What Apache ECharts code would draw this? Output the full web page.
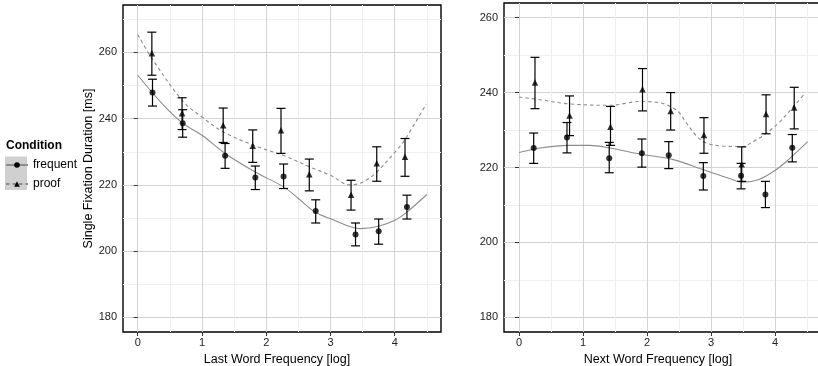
<!DOCTYPE html>
<html><head><meta charset="utf-8">
<script src="https://cdn.jsdelivr.net/npm/echarts@6/dist/echarts.min.js"></script>
<style>html,body{margin:0;padding:0;background:#fff}#c{width:818px;height:366px}</style>
</head><body><div id="c"></div>
<script>
// ---------- DATA ----------
// Left panel: Last Word Frequency [log]
const lastFreqX    = [0.23, 0.70, 1.36, 1.83, 2.27, 2.77, 3.39, 3.75, 4.19];
const lastFreqMean = [247.9, 238.6, 228.8, 222.2, 222.5, 212.1, 205.0, 206.0, 213.3];
const lastFreqLo   = [243.8, 234.4, 225.0, 218.6, 218.9, 208.5, 201.6, 202.1, 209.7];
const lastFreqHi   = [251.9, 242.7, 232.5, 225.7, 226.3, 215.5, 208.5, 209.7, 216.9];

const lastProofX    = [0.22, 0.69, 1.33, 1.79, 2.23, 2.67, 3.32, 3.72, 4.16];
const lastProofMean = [259.7, 241.6, 238.0, 231.8, 236.5, 223.2, 217.0, 226.5, 228.5];
const lastProofLo   = [253.1, 236.7, 232.8, 226.8, 229.5, 218.2, 212.4, 221.1, 222.6];
const lastProofHi   = [266.1, 246.3, 243.2, 236.6, 243.1, 227.8, 221.4, 231.5, 234.0];

const lastFreqFitX  = [0, 0.4, 0.71, 1.0, 1.36, 1.83, 2.27, 2.5, 2.76, 3.0, 3.46, 3.75, 4.0, 4.19, 4.5];
const lastFreqFitY  = [253.1, 244.1, 238.5, 235.0, 229.5, 223.9, 219.4, 215.9, 211.8, 209.8, 206.8, 207.5, 209.3, 211.8, 217.1];
const lastProofFitX = [0, 0.22, 0.71, 1.0, 1.33, 1.8, 2.32, 2.68, 3.0, 3.3, 3.5, 3.72, 4.03, 4.16, 4.49];
const lastProofFitY = [265.4, 258.2, 245.1, 240.5, 236.0, 232.0, 228.5, 225.4, 222.9, 220.0, 220.8, 223.9, 230.5, 233.7, 244.4];

// Right panel: Next Word Frequency [log]
const nextFreqX    = [0.23, 0.75, 1.41, 1.92, 2.34, 2.88, 3.47, 3.85, 4.27];
const nextFreqMean = [225.2, 228.0, 222.5, 223.8, 223.3, 217.7, 217.8, 212.8, 225.3];
const nextFreqLo   = [221.1, 223.9, 218.6, 220.1, 219.7, 214.0, 214.3, 209.3, 221.5];
const nextFreqHi   = [229.2, 232.0, 226.7, 227.6, 226.9, 221.3, 221.1, 216.3, 228.8];

const nextProofX    = [0.25, 0.79, 1.43, 1.93, 2.37, 2.89, 3.48, 3.86, 4.30];
const nextProofMean = [242.7, 233.9, 230.9, 240.9, 235.1, 228.7, 220.9, 234.3, 236.0];
const nextProofLo   = [235.7, 228.5, 225.9, 235.1, 230.0, 223.8, 216.3, 229.0, 230.3];
const nextProofHi   = [249.4, 239.1, 236.3, 246.4, 240.0, 233.3, 225.5, 239.4, 241.4];

const nextFreqFitX  = [0, 0.33, 0.77, 1.11, 1.42, 1.89, 2.41, 2.88, 3.3, 3.5, 3.75, 4.0, 4.21, 4.51];
const nextFreqFitY  = [224.0, 225.2, 225.9, 225.9, 225.2, 223.6, 222.1, 219.4, 217.0, 216.1, 216.8, 219.2, 222.1, 226.9];
const nextProofFitX = [0, 0.33, 0.77, 1.42, 1.89, 2.2, 2.36, 2.49, 2.62, 2.78, 2.93, 3.14, 3.48, 3.66, 3.87, 4.08, 4.29, 4.47];
const nextProofFitY = [238.8, 238.1, 237.0, 236.6, 237.6, 237.3, 236.3, 234.9, 231.8, 228.3, 226.5, 225.8, 225.6, 226.9, 229.2, 232.3, 236.3, 239.8];

const xMajorTicks = [0, 1, 2, 3, 4];
const xMinorTicks = [0.5, 1.5, 2.5, 3.5, 4.5];
const yMajorTicks = [180, 200, 220, 240, 260];
const yMinorTicksLeft  = [190, 210, 230, 250, 270];
const yMinorTicksRight = [190, 210, 230, 250];

const legendNames = ['frequent', 'proof'];
const legendTitle = 'Condition';
const xTitleLeft  = 'Last Word Frequency [log]';
const xTitleRight = 'Next Word Frequency [log]';
const yTitle      = 'Single Fixation Duration [ms]';

// ---------- CHART ----------
const FONT = '"Liberation Sans", Arial, Helvetica, sans-serif';
const zip2 = (a, b) => a.map((v, i) => [v, b[i]]);
const zip3 = (a, b, c) => a.map((v, i) => [v, b[i], c[i]]);

function errRender(params, api) {
  const x = api.value(0), lo = api.value(1), hi = api.value(2);
  const t = api.coord([x, hi]), b = api.coord([x, lo]);
  const hw = 4.5;
  const st = { stroke: '#000', lineWidth: 1.2, fill: null };
  return { type: 'group', children: [
    { type: 'line', shape: { x1: t[0], y1: t[1], x2: b[0], y2: b[1] }, style: st },
    { type: 'line', shape: { x1: t[0] - hw, y1: t[1], x2: t[0] + hw, y2: t[1] }, style: st },
    { type: 'line', shape: { x1: b[0] - hw, y1: b[1], x2: b[0] + hw, y2: b[1] }, style: st }
  ]};
}

function mainX(grid, min, max, name, shift) {
  return { type: 'value', gridIndex: grid, min: min, max: max, position: 'bottom',
    name: name, nameLocation: 'middle', nameGap: 19,
    nameTextStyle: { fontFamily: FONT, fontSize: 12.5, color: '#000', padding: [0, shift, 0, 0] },
    axisLine: { show: false },
    axisTick: { show: true, length: 4, customValues: xMajorTicks, lineStyle: { color: '#333', width: 1 } },
    axisLabel: { customValues: xMajorTicks, margin: 5, fontFamily: FONT, fontSize: 11, color: '#222' },
    splitLine: { show: true, lineStyle: { color: '#d3d3d3', width: 1 } } };
}
function minorX(grid, min, max) {
  return { type: 'value', gridIndex: grid, min: min, max: max, position: 'bottom',
    axisLine: { show: false }, axisTick: { show: false, customValues: xMinorTicks },
    axisLabel: { show: false, customValues: xMinorTicks },
    splitLine: { show: true, lineStyle: { color: '#efefef', width: 1 } } };
}
function mainY(grid, min, max, name) {
  return { type: 'value', gridIndex: grid, min: min, max: max, position: 'left',
    name: name, nameLocation: 'middle', nameGap: 26,
    nameTextStyle: { fontFamily: FONT, fontSize: 12.5, color: '#000' },
    axisLine: { show: false },
    axisTick: { show: true, length: 4, customValues: yMajorTicks, lineStyle: { color: '#333', width: 1 } },
    axisLabel: { customValues: yMajorTicks, margin: 6, fontFamily: FONT, fontSize: 11, color: '#222' },
    splitLine: { show: true, lineStyle: { color: '#d3d3d3', width: 1 } } };
}
function minorY(grid, min, max, ticks) {
  return { type: 'value', gridIndex: grid, min: min, max: max, position: 'left',
    axisLine: { show: false }, axisTick: { show: false, customValues: ticks },
    axisLabel: { show: false, customValues: ticks },
    splitLine: { show: true, lineStyle: { color: '#efefef', width: 1 } } };
}

function panelSeries(xi, yi, fx, fy, px, py, fMean, fLo, fHi, fX, pMean, pLo, pHi, pX) {
  return [
    { type: 'line', name: 'frequent', xAxisIndex: xi, yAxisIndex: yi, data: zip2(fx, fy),
      smooth: 0.35, symbol: 'circle', showSymbol: false, symbolSize: 6,
      itemStyle: { color: '#000' }, lineStyle: { color: '#8c8c8c', width: 1.1 }, z: 2 },
    { type: 'line', name: 'proof', xAxisIndex: xi, yAxisIndex: yi, data: zip2(px, py),
      smooth: 0.35, symbol: 'triangle', showSymbol: false, symbolSize: 6,
      itemStyle: { color: '#000' }, lineStyle: { color: '#8c8c8c', width: 1.1, type: [3.5, 3] }, z: 2 },
    { type: 'custom', name: 'errF', xAxisIndex: xi, yAxisIndex: yi, renderItem: errRender,
      data: zip3(fX, fLo, fHi), z: 3 },
    { type: 'custom', name: 'errP', xAxisIndex: xi, yAxisIndex: yi, renderItem: errRender,
      data: zip3(pX, pLo, pHi), z: 3 },
    { type: 'scatter', name: 'ptF', xAxisIndex: xi, yAxisIndex: yi, data: zip2(fX, fMean),
      symbol: 'circle', symbolSize: 6, itemStyle: { color: '#000' }, z: 4 },
    { type: 'scatter', name: 'ptP', xAxisIndex: xi, yAxisIndex: yi, data: zip2(pX, pMean),
      symbol: 'triangle', symbolSize: 6.5, itemStyle: { color: '#000' }, z: 4 }
  ];
}

const chart = echarts.init(document.getElementById('c'), null, { renderer: 'canvas' });
chart.setOption({
  animation: false,
  backgroundColor: '#fff',
  title: { text: legendTitle, left: 6, top: 140, padding: 0,
    textStyle: { fontFamily: FONT, fontSize: 12, fontWeight: 'bold', color: '#000' } },
  legend: { orient: 'vertical', left: 5, top: 159, padding: 0, itemWidth: 22, itemHeight: 7, itemGap: 7,
    data: legendNames, selectedMode: false,
    textStyle: { fontFamily: FONT, fontSize: 12, color: '#000' } },
  graphic: [{ type: 'rect', left: 5, top: 156.5, z: -10, shape: { width: 22, height: 33.5 }, style: { fill: '#d0d0d0' } }],
  grid: [
    { left: 123, top: 5, width: 318, height: 327, show: true, borderColor: '#000', borderWidth: 1.4, backgroundColor: 'transparent', outerBoundsMode: 'none' },
    { left: 504, top: 3, width: 340, height: 329, show: true, borderColor: '#000', borderWidth: 1.4, backgroundColor: 'transparent', outerBoundsMode: 'none' }
  ],
  xAxis: [ mainX(0, -0.229, 4.72, xTitleLeft, 10), minorX(0, -0.229, 4.72),
           mainX(1, -0.234, 5.078, xTitleRight, 32), minorX(1, -0.234, 5.078) ],
  yAxis: [ mainY(0, 175.6, 274.3, yTitle), minorY(0, 175.6, 274.3, yMinorTicksLeft),
           mainY(1, 176.1, 263.9, ''), minorY(1, 176.1, 263.9, yMinorTicksRight) ],
  series: [].concat(
    panelSeries(0, 0, lastFreqFitX, lastFreqFitY, lastProofFitX, lastProofFitY,
      lastFreqMean, lastFreqLo, lastFreqHi, lastFreqX, lastProofMean, lastProofLo, lastProofHi, lastProofX),
    panelSeries(2, 2, nextFreqFitX, nextFreqFitY, nextProofFitX, nextProofFitY,
      nextFreqMean, nextFreqLo, nextFreqHi, nextFreqX, nextProofMean, nextProofLo, nextProofHi, nextProofX)
  )
});
</script></body></html>
